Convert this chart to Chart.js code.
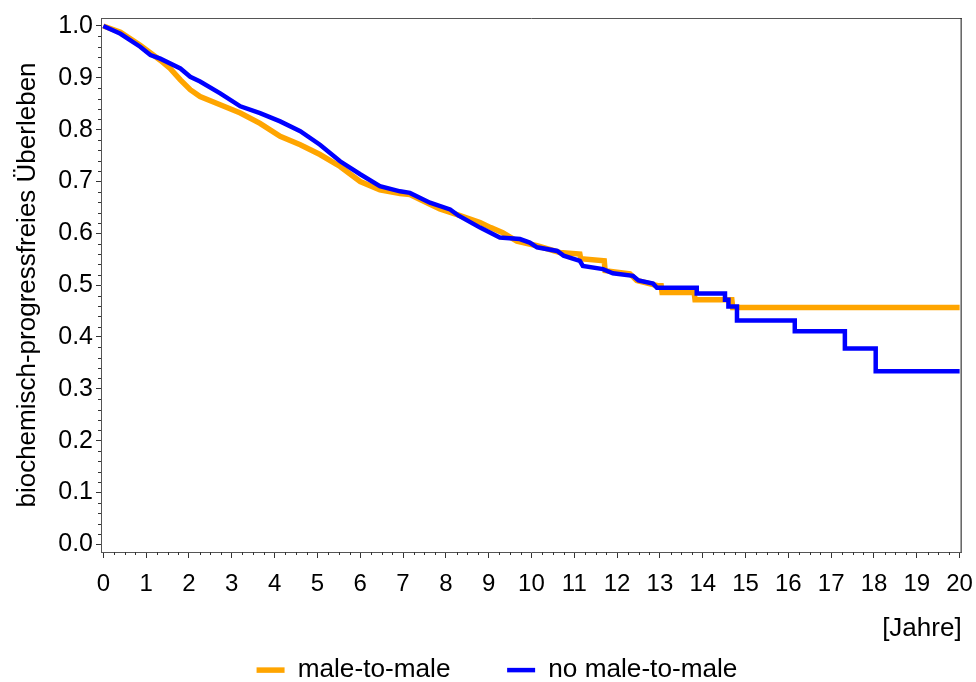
<!DOCTYPE html>
<html>
<head>
<meta charset="utf-8">
<script src="https://cdn.jsdelivr.net/npm/chart.js@4"></script>
<style>
  body { margin: 0; background: #fff; }
</style>
</head>
<body>
<canvas id="km" width="976" height="682"></canvas>
<script>
// --- Daten ---
const seriesNames = ['male-to-male', 'no male-to-male'];

// male-to-male (orange)
const maleT = [0, 0.40, 0.86, 1.33, 1.56, 1.80, 2.03, 2.26, 2.73, 3.20, 3.66, 4.13, 4.60, 5.06, 5.53, 6.00,
  6.46, 6.93, 7.16, 7.63, 7.86, 8.30, 8.80, 9.05, 9.33, 9.66, 10.13, 10.66, 11.13, 11.15, 11.70, 11.72,
  12.30, 12.46, 12.95, 13.03, 13.05, 13.80, 13.82, 14.68, 14.70, 20.0];
const maleS = [1.0, 0.988, 0.963, 0.934, 0.918, 0.896, 0.877, 0.864, 0.848, 0.832, 0.812, 0.787, 0.771, 0.752, 0.729, 0.700,
  0.684, 0.677, 0.675, 0.656, 0.647, 0.635, 0.621, 0.611, 0.601, 0.585, 0.576, 0.563, 0.560, 0.551, 0.547, 0.528,
  0.522, 0.509, 0.499, 0.499, 0.486, 0.486, 0.472, 0.472, 0.457, 0.457];

// no male-to-male (blau)
const noMaleT = [0, 0.40, 0.86, 1.10, 1.33, 1.80, 2.03, 2.26, 2.73, 3.20, 3.66, 4.13, 4.60, 5.06, 5.53, 6.00,
  6.46, 6.93, 7.16, 7.63, 8.10, 8.30, 8.80, 9.26, 9.73, 9.96, 10.13, 10.60, 10.75, 11.13, 11.20, 11.67,
  11.90, 12.37, 12.50, 12.84, 12.93, 13.86, 13.86, 14.52, 14.52, 14.60, 14.60, 14.80, 14.80,
  16.15, 16.15, 17.32, 17.32, 18.04, 18.04, 20.0];
const noMaleS = [1.0, 0.985, 0.960, 0.944, 0.937, 0.918, 0.902, 0.893, 0.870, 0.845, 0.832, 0.816, 0.797, 0.771, 0.739, 0.714,
  0.691, 0.681, 0.678, 0.659, 0.646, 0.634, 0.611, 0.592, 0.589, 0.582, 0.573, 0.566, 0.557, 0.547, 0.537, 0.531,
  0.523, 0.518, 0.509, 0.503, 0.495, 0.495, 0.484, 0.484, 0.472, 0.472, 0.459, 0.459, 0.432,
  0.432, 0.411, 0.411, 0.378, 0.378, 0.334, 0.334];

// Achsen-Ticks
const xTicks = [0, 1, 2, 3, 4, 5, 6, 7, 8, 9, 10, 11, 12, 13, 14, 15, 16, 17, 18, 19, 20];
const yTicks = [0, 0.1, 0.2, 0.3, 0.4, 0.5, 0.6, 0.7, 0.8, 0.9, 1.0];
const xMinorStep = 0.25;
const yMinorStep = 0.02;

const FONT = "'Liberation Sans', Arial, sans-serif";

function toPoints(ts, ss) {
    return ts.map((t, i) => ({ x: t, y: ss[i] }));
}

// Legende etwas nach rechts schieben (wie im Original)
const legendShift = {
    id: 'legendShift',
    afterLayout(chart) {
        if (chart.legend) {
            chart.legend.left += 16;
            chart.legend.right += 16;
        }
    }
};

// Rahmen oben/rechts und kleine Ticks
const framePlugin = {
    id: 'frame',
    afterDraw(chart) {
        const ctx = chart.ctx;
        const a = chart.chartArea;
        const xs = chart.scales.x;
        const ys = chart.scales.y;
        ctx.save();
        ctx.lineWidth = 1;
        ctx.strokeStyle = '#555';
        ctx.beginPath();
        ctx.moveTo(a.left, a.top + 0.5);
        ctx.lineTo(a.right, a.top + 0.5);
        ctx.stroke();
        ctx.strokeStyle = '#111';
        ctx.beginPath();
        ctx.moveTo(a.right - 0.5, a.top);
        ctx.lineTo(a.right - 0.5, a.bottom);
        ctx.stroke();

        // Minor ticks
        ctx.strokeStyle = '#333';
        ctx.beginPath();
        for (let v = 0; v <= 20.001; v += xMinorStep) {
            if (Math.abs(v - Math.round(v)) < 1e-6) continue;
            const px = Math.round(xs.getPixelForValue(v)) + 0.5;
            ctx.moveTo(px, a.bottom);
            ctx.lineTo(px, a.bottom + 3);
        }
        for (let v = 0; v <= 1.0001; v += yMinorStep) {
            if (Math.abs(v * 10 - Math.round(v * 10)) < 1e-6) continue;
            const py = Math.round(ys.getPixelForValue(v)) + 0.5;
            ctx.moveTo(a.left - 3, py);
            ctx.lineTo(a.left, py);
        }
        ctx.stroke();
        ctx.restore();
    }
};

new Chart(document.getElementById('km'), {
    type: 'line',
    data: {
        datasets: [
            {
                // nbsp am Ende = Abstand zum zweiten Eintrag
                label: seriesNames[0] + '\u00A0\u00A0\u00A0\u00A0\u00A0\u00A0',
                data: toPoints(maleT, maleS),
                borderColor: '#FFA500',
                backgroundColor: '#FFA500',
                borderWidth: 5.5,
                pointRadius: 0,
                tension: 0,
                order: 2
            },
            {
                label: seriesNames[1],
                data: toPoints(noMaleT, noMaleS),
                borderColor: '#0000FF',
                backgroundColor: '#0000FF',
                borderWidth: 4.5,
                pointRadius: 0,
                tension: 0,
                order: 1
            }
        ]
    },
    options: {
        responsive: false,
        animation: false,
        devicePixelRatio: 1,
        layout: { padding: { top: 16, right: 14, left: 0, bottom: 0 } },
        plugins: {
            tooltip: { enabled: false },
            legend: {
                position: 'bottom',
                maxHeight: 38,
                labels: {
                    color: '#000',
                    font: { family: FONT, size: 26.2 },
                    usePointStyle: true,
                    pointStyle: 'line',
                    pointStyleWidth: 28,
                    padding: 13,
                    sort: (a, b) => a.datasetIndex - b.datasetIndex
                }
            }
        },
        scales: {
            x: {
                type: 'linear',
                min: -0.054,
                max: 20.047,
                afterBuildTicks: s => { s.ticks = xTicks.map(v => ({ value: v })); },
                afterFit: s => { s.height = 92; },
                grid: { drawOnChartArea: false, tickLength: 6, tickColor: '#333' },
                border: { color: '#555', width: 1 },
                ticks: {
                    color: '#000',
                    font: { family: FONT, size: 24, lineHeight: 1.95 },
                    padding: 3,
                    maxRotation: 0,
                    autoSkip: false
                },
                title: {
                    display: true,
                    text: '[Jahre]',
                    align: 'end',
                    color: '#000',
                    font: { family: FONT, size: 26 },
                    padding: { top: 0, bottom: 0 }
                }
            },
            y: {
                min: -0.0148,
                max: 1.0154,
                afterBuildTicks: s => { s.ticks = yTicks.map(v => ({ value: v })); },
                afterFit: s => { s.width = 101; },
                grid: { drawOnChartArea: false, tickLength: 5, tickColor: '#333' },
                border: { color: '#555', width: 1 },
                ticks: {
                    color: '#000',
                    font: { family: FONT, size: 25 },
                    padding: 3,
                    autoSkip: false,
                    callback: v => v.toFixed(1)
                },
                title: {
                    display: true,
                    text: 'biochemisch-progressfreies Überleben',
                    color: '#000',
                    font: { family: FONT, size: 26 },
                    padding: { top: 12, bottom: 0 }
                }
            }
        }
    },
    plugins: [framePlugin, legendShift]
});
</script>
</body>
</html>
